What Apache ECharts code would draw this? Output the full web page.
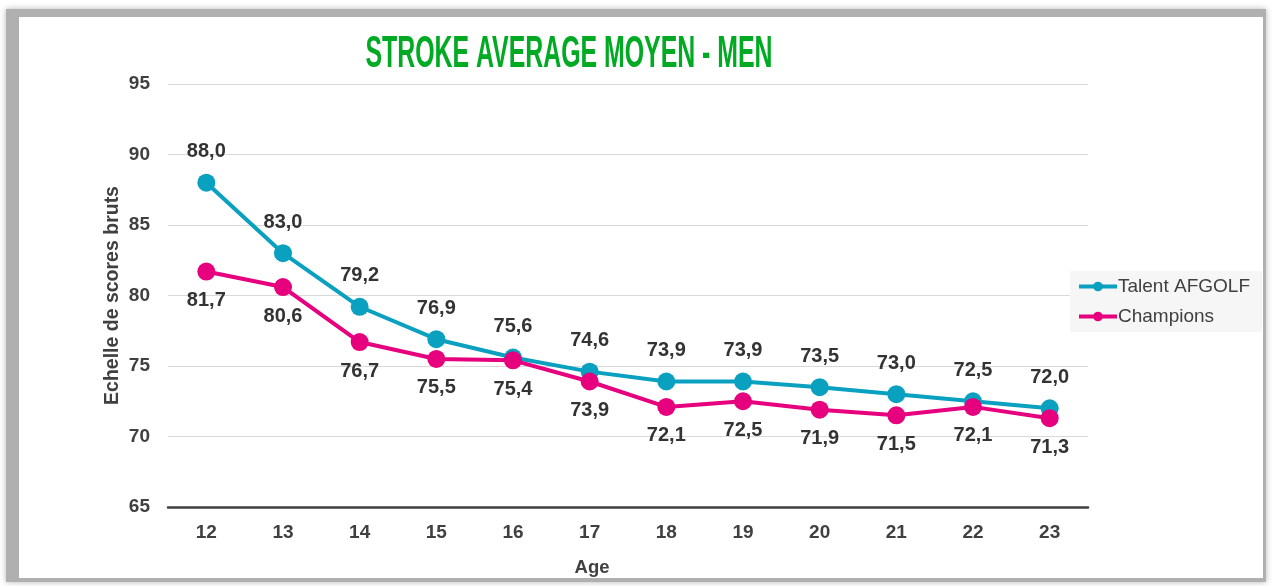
<!DOCTYPE html>
<html>
<head>
<meta charset="utf-8">
<script src="https://cdn.jsdelivr.net/npm/echarts@6/dist/echarts.min.js"></script>
<style>
  html, body { margin: 0; padding: 0; background: #fff; }
  #main { width: 1272px; height: 586px; }
</style>
</head>
<body>
<div id="main"></div>
<script>
var ages = ['12', '13', '14', '15', '16', '17', '18', '19', '20', '21', '22', '23'];
var talent = [88.0, 83.0, 79.2, 76.9, 75.6, 74.6, 73.9, 73.9, 73.5, 73.0, 72.5, 72.0];
var champions = [81.7, 80.6, 76.7, 75.5, 75.4, 73.9, 72.1, 72.5, 71.9, 71.5, 72.1, 71.3];

function fmt(p) {
    return p.value.toFixed(1).replace('.', ',');
}

var FONT = 'Liberation Sans, Arial, sans-serif';

var myChart = echarts.init(document.getElementById('main'));
var option = {
    backgroundColor: '#fff',
    animation: false,
    graphic: [
        // frame with grey shadow edge
        { type: 'rect', silent: true, z: -10,
          shape: { x: 6, y: 9, width: 1260, height: 573 },
          style: { fill: '#b0b0b0', shadowBlur: 6, shadowColor: 'rgba(0,0,0,0.3)' } },
        { type: 'rect', silent: true, z: -9,
          shape: { x: 19, y: 17, width: 1244, height: 561 },
          style: { fill: '#ffffff' } },
        { type: 'text', x: 569, y: 55, scaleX: 0.565, z: 10,
          style: {
              text: 'STROKE AVERAGE MOYEN - MEN',
              fill: '#00aa22',
              font: 'bold 44px "Liberation Sans Narrow", "Liberation Sans", sans-serif',
              textAlign: 'center',
              textVerticalAlign: 'middle'
          } }
    ],
    grid: { left: 168, right: 184, top: 84, bottom: 79 },
    legend: {
        orient: 'vertical',
        left: 1070,
        top: 271,
        backgroundColor: '#f6f6f6',
        padding: [6, 12, 6, 7],
        itemWidth: 38,
        itemHeight: 12,
        itemGap: 11,
        lineStyle: { width: 4 },
        textStyle: { fontSize: 19, color: '#404040', fontFamily: FONT, padding: [0, 0, 0, -4] },
        data: ['Talent AFGOLF', 'Champions']
    },
    xAxis: {
        type: 'category',
        data: ages,
        name: 'Age',
        nameLocation: 'middle',
        nameGap: 51,
        nameMoveOverlap: false,
        nameTextStyle: { fontSize: 18.5, fontWeight: 'bold', color: '#404040', fontFamily: FONT, padding: [0, 72, 0, 0] },
        axisLine: { lineStyle: { color: '#404040', width: 2.5 } },
        axisTick: { show: false },
        axisLabel: { fontSize: 19, fontWeight: 'bold', color: '#404040', margin: 16, fontFamily: FONT }
    },
    yAxis: {
        type: 'value',
        min: 65,
        max: 95,
        interval: 5,
        name: 'Echelle de scores bruts',
        nameLocation: 'middle',
        nameGap: 45,
        nameMoveOverlap: false,
        nameTextStyle: { fontSize: 19.5, fontWeight: 'bold', color: '#404040', fontFamily: FONT },
        axisLine: { show: false },
        axisTick: { show: false },
        axisLabel: { fontSize: 19, fontWeight: 'bold', color: '#404040', margin: 18, fontFamily: FONT },
        splitLine: { lineStyle: { color: '#d9d9d9', width: 1 } }
    },
    series: [{
        name: 'Talent AFGOLF',
        type: 'line',
        data: talent,
        symbol: 'circle',
        symbolSize: 18,
        color: '#0aa0c0',
        lineStyle: { width: 4, color: '#0aa0c0' },
        label: {
            show: true, position: 'top', distance: 12, formatter: fmt,
            fontSize: 20, fontWeight: 'bold', color: '#333333', fontFamily: FONT
        },
        z: 3
    }, {
        name: 'Champions',
        type: 'line',
        data: champions,
        symbol: 'circle',
        symbolSize: 18,
        color: '#e6007e',
        lineStyle: { width: 4, color: '#e6007e' },
        label: {
            show: true, position: 'bottom', distance: 10, formatter: fmt,
            fontSize: 20, fontWeight: 'bold', color: '#333333', fontFamily: FONT
        },
        z: 4
    }]
};
myChart.setOption(option);
</script>
</body>
</html>
